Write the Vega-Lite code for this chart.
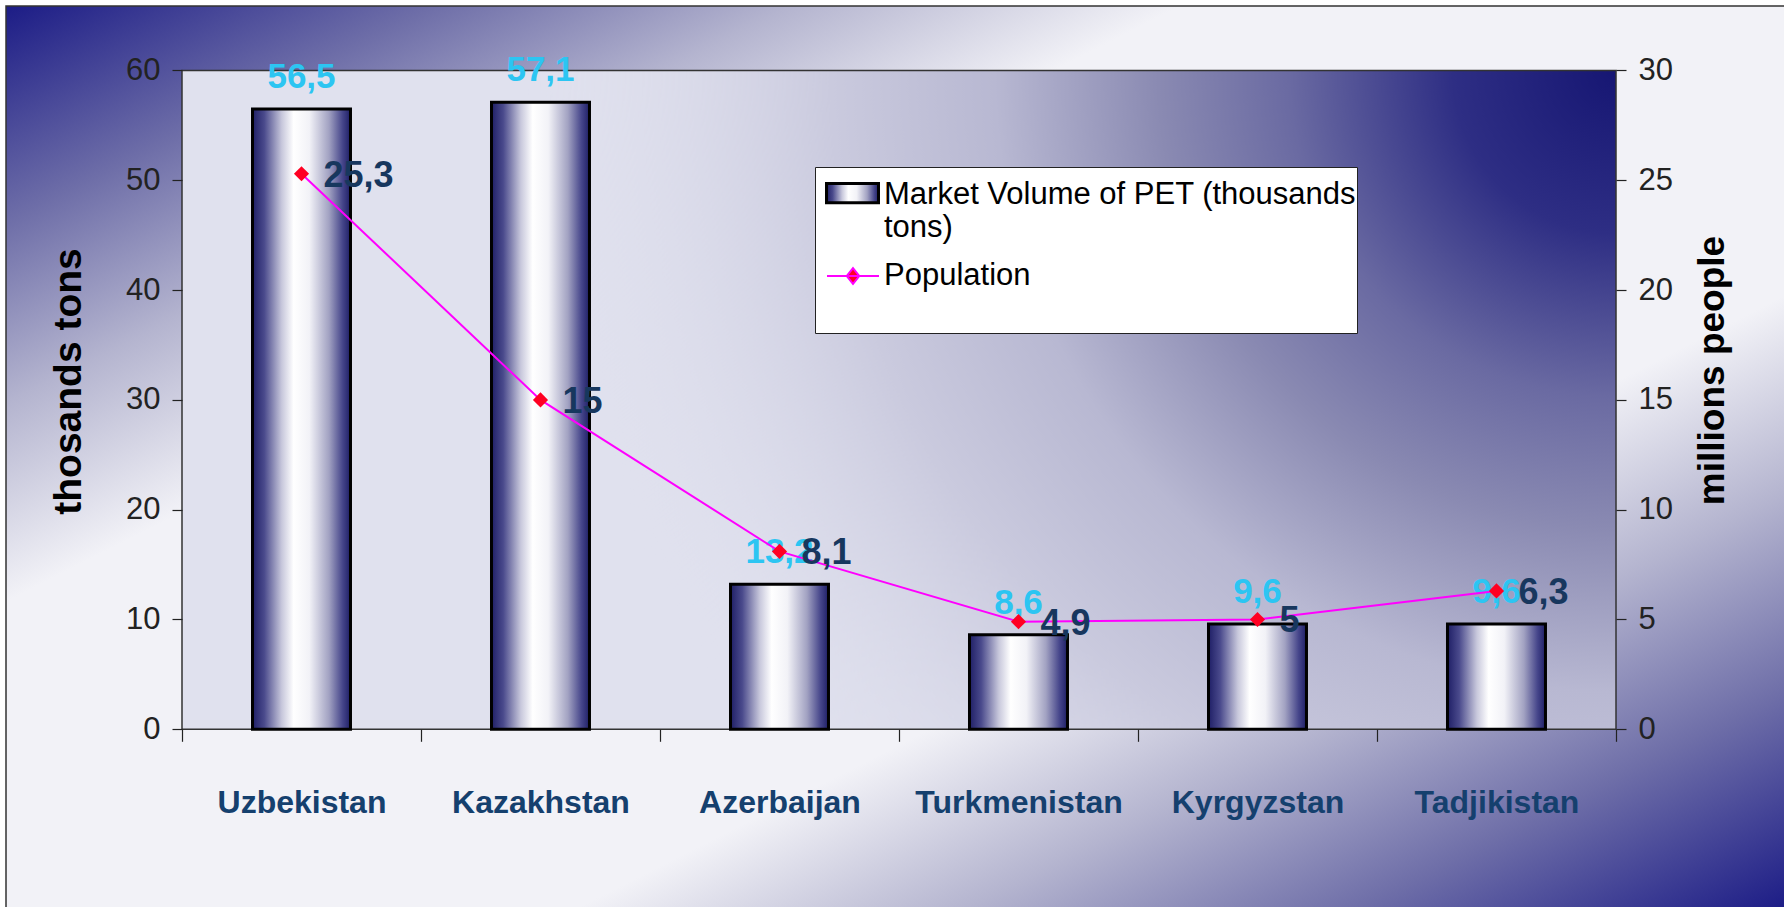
{
  "$schema": "https://vega.github.io/schema/vega-lite/v6.json",
  "width": 1778,
  "height": 901,
  "autosize": "none",
  "padding": {"left": 6, "top": 6, "right": 0, "bottom": 0},
  "background": "#ffffff",
  "config": {
    "view": {"stroke": null},
    "locale": {"number": {"decimal": ",", "thousands": " ", "grouping": [3], "currency": ["", ""]}}
  },
  "layer": [
    {
      "data": {"values": [{"part": "frame"}]},
      "encoding": {
        "x": {"datum": -0.7364, "type": "quantitative", "scale": {"domain": [-0.7364, 6.7029], "nice": false, "zero": false}, "axis": null},
        "y": {"datum": -16.366, "type": "quantitative", "scale": {"domain": [-16.184, 65.874], "nice": false, "zero": false}, "axis": null}
      },
      "layer": [
        {
          "mark": {"type": "rect", "stroke": "#333333", "strokeWidth": 1.5,
            "fill": {"gradient": "linear", "x1": 0, "y1": 0, "x2": 1, "y2": 1, "stops": [
              {"offset": 0, "color": "#1c1c86"},
              {"offset": 0.12, "color": "#6e6ea8"},
              {"offset": 0.22, "color": "#b4b4cf"},
              {"offset": 0.33, "color": "#f2f2f7"},
              {"offset": 0.66, "color": "#f2f2f7"},
              {"offset": 0.77, "color": "#b4b4cf"},
              {"offset": 0.88, "color": "#6e6ea8"},
              {"offset": 1, "color": "#1c1c86"}]}},
          "encoding": {
            "x2": {"datum": 6.7113},
            "y2": {"datum": 65.874}
          }
        },
        {
          "mark": {"type": "rect", "fill": "#e0e1ee"},
          "encoding": {
            "x": {"datum": 0, "type": "quantitative"},
            "x2": {"datum": 6},
            "y": {"datum": 0, "type": "quantitative"},
            "y2": {"datum": 60}
          }
        },
        {
          "mark": {"type": "rect",
            "fill": {"gradient": "radial", "x1": 1, "y1": 0.2702, "r1": 0, "x2": 1, "y2": 0.2702, "r2": 0.76, "stops": [
              {"offset": 0, "color": "#161673"},
              {"offset": 0.15, "color": "#2e2e84"},
              {"offset": 0.3, "color": "#6a6aa2"},
              {"offset": 0.42, "color": "#8a8ab2"},
              {"offset": 0.57, "color": "#b8b8d2"},
              {"offset": 0.72, "color": "#cacade"},
              {"offset": 1, "color": "rgba(224,225,238,0)"}]}},
          "encoding": {
            "x": {"datum": 0, "type": "quantitative"},
            "x2": {"datum": 6},
            "y": {"datum": 0, "type": "quantitative"},
            "y2": {"datum": 60}
          }
        },
        {
          "mark": {"type": "rect", "fill": null, "stroke": "#333333", "strokeWidth": 1.5},
          "encoding": {
            "x": {"datum": 0, "type": "quantitative"},
            "x2": {"datum": 6},
            "y": {"datum": 0, "type": "quantitative"},
            "y2": {"datum": 60}
          }
        }
      ]
    },
    {
      "data": {"values": [
        {"country": "Uzbekistan", "volume": 56.5, "population": 25.3},
        {"country": "Kazakhstan", "volume": 57.1, "population": 15},
        {"country": "Azerbaijan", "volume": 13.2, "population": 8.1},
        {"country": "Turkmenistan", "volume": 8.6, "population": 4.9},
        {"country": "Kyrgyzstan", "volume": 9.6, "population": 5},
        {"country": "Tadjikistan", "volume": 9.6, "population": 6.3}
      ]},
      "encoding": {
        "x": {
          "field": "country", "type": "nominal", "sort": null,
          "scale": {"paddingInner": 0, "paddingOuter": 0.7197, "align": 0.5116},
          "axis": {
            "orient": "bottom", "offset": -177.7, "title": null, "domain": false, "zindex": 2,
            "tickBand": "extent", "tickSize": 12, "tickColor": "#222222", "tickWidth": 1.2,
            "labelFont": "Liberation Sans", "labelLimit": 400,
            "labelFontWeight": "bold", "labelFontSize": 32, "labelColor": "#15406e",
            "labelPadding": 61, "labelBaseline": "middle", "labelAngle": 0
          }
        }
      },
      "layer": [
        {
          "encoding": {
            "y": {
              "field": "volume", "type": "quantitative",
              "scale": {"domain": [-16.184, 65.874], "nice": false, "zero": false},
              "axis": {
                "orient": "left", "offset": -176, "values": [0, 10, 20, 30, 40, 50, 60], "zindex": 2,
                "domain": false, "grid": false, "tickSize": 10, "tickColor": "#222222", "tickWidth": 1.2,
                "labelFont": "Liberation Sans", "labelFontSize": 31, "labelColor": "#222222", "labelPadding": 12,
                "title": "thosands tons", "titleFont": "Liberation Sans", "titleFontSize": 39,
                "titleFontWeight": "bold", "titleColor": "#000000", "titleAngle": 270,
                "titleX": -114, "titleY": 375, "titleAlign": "center", "titleBaseline": "middle"
              }
            }
          },
          "layer": [
            {
              "mark": {"type": "bar", "width": {"band": 0.41}, "strokeWidth": 3,
                "fill": {"gradient": "linear", "x1": 0, "y1": 0, "x2": 1, "y2": 0, "stops": [
                  {"offset": 0, "color": "#1f1f66"},
                  {"offset": 0.12, "color": "#4a4a8c"},
                  {"offset": 0.3, "color": "#c8c8dc"},
                  {"offset": 0.42, "color": "#ffffff"},
                  {"offset": 0.58, "color": "#f2f2f7"},
                  {"offset": 0.78, "color": "#a2a2c2"},
                  {"offset": 0.92, "color": "#45458a"},
                  {"offset": 1, "color": "#1f1f66"}]}},
              "encoding": {
                "stroke": {
                  "datum": "Market Volume of PET (thousands tons)", "type": "nominal",
                  "scale": {"domain": ["Market Volume of PET (thousands tons)"], "range": ["#000000"]},
                  "legend": {
                    "orient": "none", "legendX": 809, "legendY": 161, "zindex": 3,
                    "title": " ", "titleOrient": "bottom", "titleFontSize": 60, "titlePadding": 31,
                    "fillColor": "#ffffff", "strokeColor": "#222222", "padding": 0, "symbolOffset": 10,
                    "labelFont": "Liberation Sans", "labelFontSize": 31, "labelColor": "#000000",
                    "labelLimit": 1000, "labelOffset": 4, "symbolSize": 2704,
                    "symbolType": "M-1,-0.425H1V0.315H-1Z", "symbolStrokeWidth": 3, "symbolStrokeColor": "#000000",
                    "labelExpr": "['Market Volume of PET (thousands', 'tons)']"
                  }
                }
              }
            },
            {
              "mark": {"type": "text", "font": "Liberation Sans", "fontWeight": "bold", "fontSize": 35,
                "color": "#2cc5f2", "dy": -32, "baseline": "middle"},
              "encoding": {"text": {"field": "volume", "type": "quantitative", "format": ".1~f"}}
            }
          ]
        },
        {
          "encoding": {
            "y": {
              "field": "population", "type": "quantitative",
              "scale": {"domain": [-8.092, 32.937], "nice": false, "zero": false},
              "axis": {
                "orient": "right", "offset": -168, "values": [0, 5, 10, 15, 20, 25, 30], "zindex": 2,
                "domain": false, "grid": false, "tickSize": 10, "tickColor": "#222222", "tickWidth": 1.2,
                "labelFont": "Liberation Sans", "labelFontSize": 31, "labelColor": "#222222", "labelPadding": 12,
                "title": "millions people", "titleFont": "Liberation Sans", "titleFontSize": 37,
                "titleFontWeight": "bold", "titleColor": "#000000", "titleAngle": 270,
                "titleX": 96, "titleY": 364, "titleAlign": "center", "titleBaseline": "middle"
              }
            }
          },
          "layer": [
            {
              "mark": {"type": "line", "strokeWidth": 2},
              "encoding": {
                "stroke": {
                  "datum": "Population", "type": "nominal",
                  "scale": {"domain": ["Population"], "range": ["#ff00ff"]},
                  "legend": {
                    "orient": "none", "legendX": 820, "legendY": 243, "zindex": 4,
                    "title": null, "fillColor": null, "strokeColor": null, "padding": 0,
                    "labelFont": "Liberation Sans", "labelFontSize": 31, "labelColor": "#000000",
                    "labelLimit": 1000, "labelOffset": 4, "symbolSize": 2704,
                    "symbolType": "M-1,0H1M0,-0.3L0.24,0L0,0.3L-0.24,0Z", "symbolStrokeWidth": 2,
                    "symbolFillColor": "#ff0022", "symbolStrokeColor": "#ff00ff"
                  }
                }
              }
            },
            {
              "mark": {"type": "point", "shape": "diamond", "filled": true, "color": "#ff0022", "size": 230, "opacity": 1}
            },
            {
              "mark": {"type": "text", "font": "Liberation Sans", "fontWeight": "bold", "fontSize": 36,
                "color": "#17375e", "align": "left", "dx": 22, "dy": 2, "baseline": "middle"},
              "encoding": {"text": {"field": "population", "type": "quantitative", "format": ".1~f"}}
            }
          ]
        }
      ],
      "resolve": {"scale": {"y": "independent", "stroke": "independent"}}
    }
  ],
  "resolve": {"scale": {"x": "independent", "y": "independent"}}
}
